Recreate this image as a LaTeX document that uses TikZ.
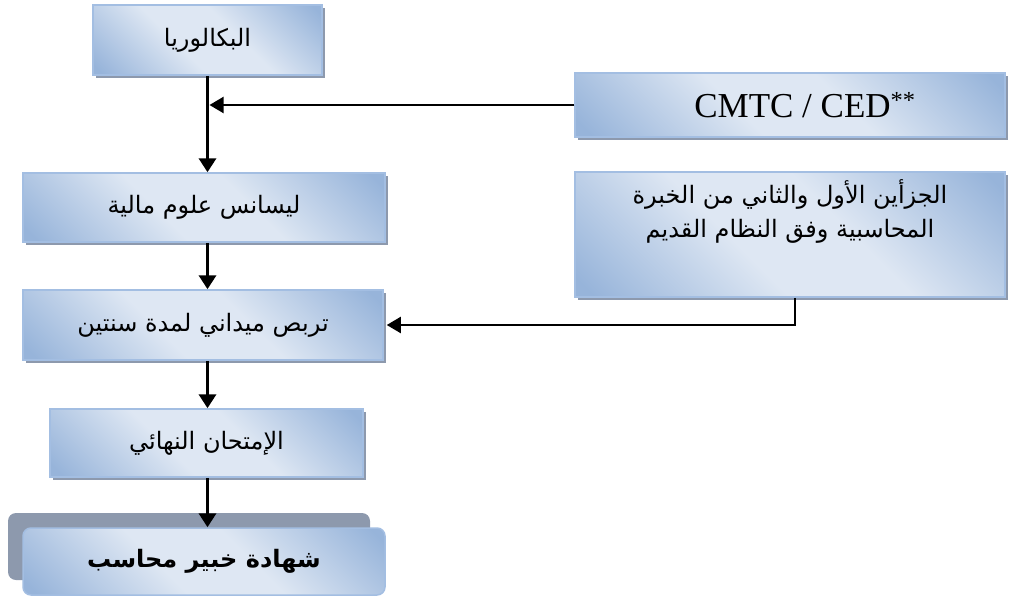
\documentclass[tikz,border=0pt]{standalone}
\usepackage{fontspec}
\setmainfont{Liberation Serif}
\newfontfamily\arabicfont[Script=Arabic]{DejaVu Sans}
\TeXXeTstate=1
\usetikzlibrary{arrows.meta,shadows}
\definecolor{boxlight}{RGB}{222,231,243}
\definecolor{boxdark}{RGB}{151,180,218}
\definecolor{boxedge}{RGB}{163,190,226}
\definecolor{boxshadow}{RGB}{141,153,173}
\pgfdeclareverticalshading{boxshade}{100bp}{color(0bp)=(boxdark); color(17bp)=(boxdark);
  color(42bp)=(boxlight); color(58bp)=(boxlight); color(83bp)=(boxdark); color(100bp)=(boxdark)}
\tikzset{
  box/.style={draw=boxedge,line width=1.5pt,shading=boxshade,shading angle=-45,inner sep=0pt,
    font=\arabicfont\fontsize{24}{34}\selectfont},
  stage/.style={box,drop shadow={shadow xshift=3pt,shadow yshift=-3pt,fill=boxshadow,opacity=1}},
  final/.style={box,rounded corners=8pt,
    drop shadow={shadow xshift=-15pt,shadow yshift=15pt,fill=boxshadow,opacity=1},
    font=\arabicfont\bfseries\fontsize{24}{34}\selectfont},
  flow/.style={line width=3.5pt,-{Triangle[length=14pt,width=17pt]}},
  feed/.style={line width=2pt,-{Triangle[length=14pt,width=16pt]}}
}
\begin{document}
\begin{tikzpicture}[x=1pt,y=-1pt,line cap=butt,line join=miter]
  \useasboundingbox (0,0) rectangle (1009,597);
  % stages of the path
  \node[stage,minimum width=229pt,minimum height=70pt] (bac) at (207.5,40) {\beginR البكالوريا\endR};
  \node[stage,minimum width=430pt,minimum height=64pt,font=\fontsize{35}{40}\selectfont] (cmtc) at (790,105) {\hspace*{30pt}CMTC / CED\textsuperscript{**}};
  \node[stage,minimum width=430pt,minimum height=125pt] (old) at (790,234.5)
    {\parbox[c][109pt][t]{420pt}{\centering\beginR الجزأين الأول والثاني من الخبرة\endR\\\beginR المحاسبية وفق النظام القديم\endR}};
  \node[stage,minimum width=362pt,minimum height=69pt] (lic) at (204,207.5) {\beginR ليسانس علوم مالية\endR};
  \node[stage,minimum width=360pt,minimum height=70pt] (train) at (203,325) {\beginR تربص ميداني لمدة سنتين\endR};
  \node[stage,minimum width=313pt,minimum height=68pt] (exam) at (206.5,443) {\beginR الإمتحان النهائي\endR};
  \node[final,minimum width=362pt,minimum height=67pt] (cert) at (204,561.5) {\beginR شهادة خبير محاسب\endR};
  % arrows
  \draw[flow] (bac.south) -- (bac.south |- lic.north);
  \draw[feed] (cmtc.west) -- ([xshift=2pt]cmtc.west -| bac.south);
  \draw[flow] (bac.south |- lic.south) -- (bac.south |- train.north);
  \draw[flow] (bac.south |- train.south) -- (bac.south |- exam.north);
  \draw[flow] (bac.south |- exam.south) -- (bac.south |- cert.north);
  \draw[feed] ([xshift=5pt]old.south) |- ([xshift=3pt]train.east);
\end{tikzpicture}
\end{document}
